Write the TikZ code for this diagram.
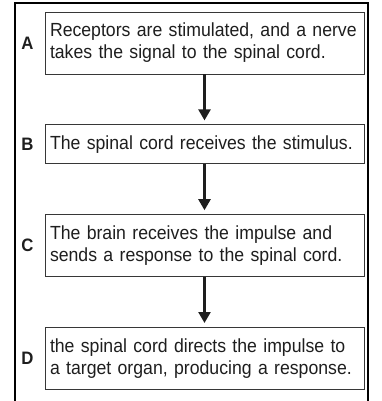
\documentclass[tikz,border=0pt]{standalone}
\usepackage{fontspec}
\setmainfont{Liberation Sans}[FakeStretch=0.93]
\usepackage{xcolor}
\usetikzlibrary{arrows.meta,positioning}
\definecolor{boxgray}{RGB}{55,55,55}
\definecolor{textgray}{RGB}{30,30,30}
\tikzset{
  stepbox/.style={draw=boxgray,thick,text width=309pt,inner xsep=5pt,
    minimum height=62pt,align=left,text=textgray,
    font=\fontsize{19}{22}\selectfont},
  letter/.style={font=\fontsize{18}{20}\selectfont\bfseries,inner sep=0pt,
    text=textgray},
  flow/.style={-{Triangle[length=11pt,width=12pt]},line width=2.4pt,
    draw=textgray,shorten >=4pt},
  frame/.style={line width=2.8pt}
}

\begin{document}
\begin{tikzpicture}[x=1pt,y=1pt,node distance=50pt]
  \useasboundingbox (0,0) rectangle (381,-401);
  % outer frame, open at the bottom
  \draw[frame] (15,-401) |- (368,-3) -- (368,-401);
  \node[stepbox] (recept) at (204.5,-43) {Receptors are stimulated, and a nerve\\
    takes the signal to the spinal cord.};
  \node[stepbox,minimum height=39pt,below=of recept] (spinal)
    {The spinal cord receives the stimulus.};
  \node[stepbox,below=of spinal] (brain) {The brain receives the impulse and\\
    sends a response to the spinal cord.};
  \node[stepbox,below=of brain] (target) {the spinal cord directs the impulse to\\
    a target organ, producing a response.};
  \node[letter,left=11pt of recept] (la) {A};
  \node[letter,left=11pt of spinal] (lb) {B};
  \node[letter,left=11pt of brain] (lc) {C};
  \node[letter,left=11pt of target] (ld) {D};
  \draw[flow] (recept)--(spinal);
  \draw[flow] (spinal)--(brain);
  \draw[flow] (brain)--(target);
\end{tikzpicture}
\end{document}
